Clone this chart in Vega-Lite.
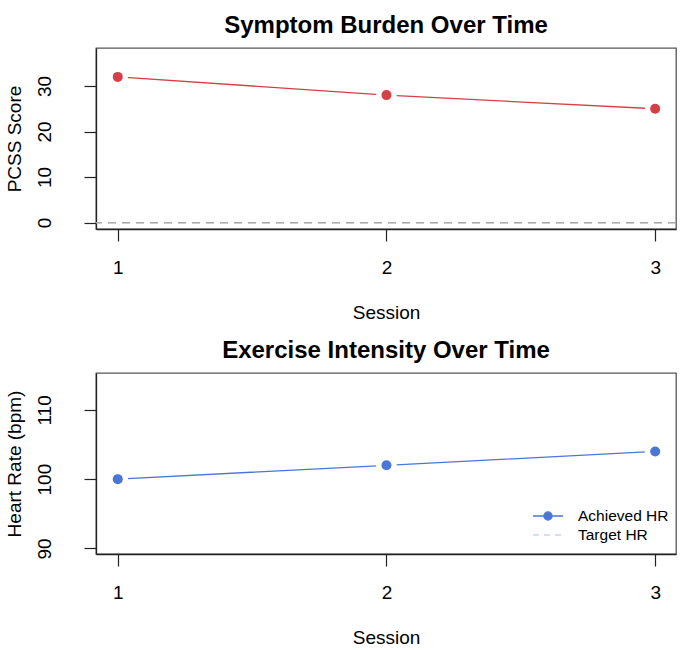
{
  "$schema": "https://vega.github.io/schema/vega-lite/v6.json",
  "autosize": {"type": "none"},
  "padding": {"left": 96, "top": 48, "right": 604, "bottom": 602},
  "background": "white",
  "bounds": "flush",
  "spacing": 144,
  "resolve": {"legend": {"color": "independent"}},
  "config": {
    "font": "Liberation Sans",
    "view": {"stroke": "#555555", "strokeWidth": 1.3},
    "axis": {
      "grid": false,
      "domainColor": "#222222",
      "domainWidth": 1.3,
      "tickColor": "#222222",
      "tickWidth": 1.2,
      "tickSize": 12,
      "labelFont": "Liberation Sans",
      "titleFont": "Liberation Sans",
      "labelFontSize": 19,
      "titleFontSize": 19,
      "labelColor": "#000000",
      "titleColor": "#000000",
      "titleFontWeight": "normal"
    },
    "axisX": {"labelAngle": 0, "labelPadding": 17, "titlePadding": 26},
    "axisY": {"labelAngle": 270, "labelPadding": 30, "titlePadding": 11},
    "title": {
      "font": "Liberation Sans",
      "fontSize": 24,
      "fontWeight": "bold",
      "color": "#000000",
      "anchor": "middle",
      "baseline": "alphabetic",
      "offset": 10
    }
  },
  "vconcat": [
    {
      "width": 580,
      "height": 181,
      "title": "Symptom Burden Over Time",
      "data": {"values": [
        {"session": 1, "pcss": 32},
        {"session": 2, "pcss": 28},
        {"session": 3, "pcss": 25}
      ]},
      "layer": [
        {
          "mark": {"type": "line", "color": "#d63f45", "strokeWidth": 1.3},
          "encoding": {
            "x": {"field": "session", "type": "quantitative", "title": "Session",
                  "scale": {"domain": [0.919, 3.0775], "nice": false, "zero": false},
                  "axis": {"values": [1, 2, 3], "format": "d"}},
            "y": {"field": "pcss", "type": "quantitative", "title": "PCSS Score",
                  "scale": {"domain": [-1.41, 38.35], "nice": false, "zero": false},
                  "axis": {"values": [0, 10, 20, 30]}}
          }
        },
        {
          "mark": {"type": "rule", "color": "#aaaaaa", "strokeDash": [8, 6], "strokeWidth": 1.3},
          "encoding": {"y": {"datum": 0}}
        },
        {
          "mark": {"type": "point", "filled": true, "color": "white", "opacity": 1, "size": 430},
          "encoding": {
            "x": {"field": "session", "type": "quantitative"},
            "y": {"field": "pcss", "type": "quantitative"}
          }
        },
        {
          "mark": {"type": "point", "filled": true, "color": "#d63f45", "opacity": 1, "size": 100},
          "encoding": {
            "x": {"field": "session", "type": "quantitative"},
            "y": {"field": "pcss", "type": "quantitative"}
          }
        }
      ]
    },
    {
      "width": 580,
      "height": 181,
      "title": "Exercise Intensity Over Time",
      "data": {"values": [
        {"session": 1, "hr": 100, "series": "Achieved HR"},
        {"session": 2, "hr": 102, "series": "Achieved HR"},
        {"session": 3, "hr": 104, "series": "Achieved HR"}
      ]},
      "layer": [
        {
          "mark": {"type": "line", "strokeWidth": 1.3},
          "encoding": {
            "x": {"field": "session", "type": "quantitative", "title": "Session",
                  "scale": {"domain": [0.919, 3.0775], "nice": false, "zero": false},
                  "axis": {"values": [1, 2, 3], "format": "d"}},
            "y": {"field": "hr", "type": "quantitative", "title": "Heart Rate (bpm)",
                  "scale": {"domain": [89.19, 115.33], "nice": false, "zero": false},
                  "axis": {"values": [90, 95, 100, 105, 110, 115],
                           "labelExpr": "datum.value % 10 === 0 ? datum.label : ''"}},
            "color": {
              "field": "series", "type": "nominal",
              "scale": {"domain": ["Achieved HR", "Target HR"], "range": ["#4a76d7", "#c5d5f3"]},
              "legend": {
                "title": null,
                "orient": "none",
                "legendX": 442,
                "legendY": 133,
                "padding": 0,
                "symbolSize": 324,
                "symbolStrokeWidth": 1.3,
                "labelOffset": 20,
                "labelFontSize": 15.5,
                "labelFont": "Liberation Sans",
                "labelColor": "#000000",
                "rowPadding": 0,
                "encode": {
                  "symbols": {
                    "update": {
                      "shape": {"signal": "datum.value === 'Achieved HR' ? 'M-1.667,0H1.667M-0.45,0A0.45,0.45 0 1,1 0.45,0A0.45,0.45 0 1,1 -0.45,0Z' : 'M-1.667,0H1.667'"},
                      "strokeDash": {"signal": "datum.value === 'Achieved HR' ? [] : [6, 5]"},
                      "fill": {"signal": "datum.value === 'Achieved HR' ? '#4a76d7' : 'transparent'"},
                      "fillOpacity": {"value": 1}
                    }
                  }
                }
              }
            }
          }
        },
        {
          "mark": {"type": "point", "filled": true, "color": "white", "opacity": 1, "size": 430},
          "encoding": {
            "x": {"field": "session", "type": "quantitative"},
            "y": {"field": "hr", "type": "quantitative"}
          }
        },
        {
          "mark": {"type": "point", "filled": true, "color": "#4a76d7", "opacity": 1, "size": 100},
          "encoding": {
            "x": {"field": "session", "type": "quantitative"},
            "y": {"field": "hr", "type": "quantitative"}
          }
        }
      ]
    }
  ]
}
